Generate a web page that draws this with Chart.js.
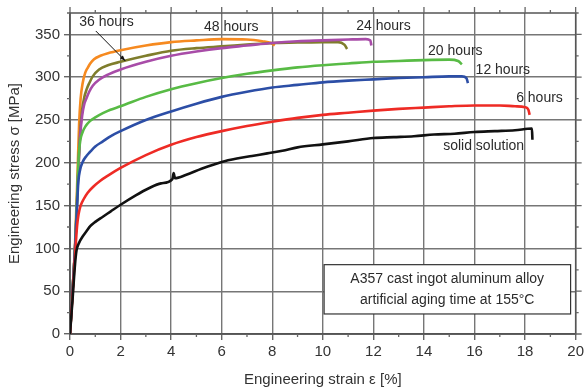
<!DOCTYPE html>
<html>
<head>
<meta charset="utf-8">
<script src="https://cdn.jsdelivr.net/npm/chart.js@4/dist/chart.umd.min.js"></script>
<style>
html,body{margin:0;padding:0;background:#fff;}
canvas{display:block;}
</style>
</head>
<body>
<canvas id="c" width="587" height="392"></canvas>
<script>
// ---- data (strain in %, stress in MPa) ----
const seriesNames = ["solid solution", "6 hours", "12 hours", "20 hours", "24 hours", "36 hours", "48 hours"];

const ssStrain = [0,0.1,0.2,0.26,0.32,0.4,0.5,0.65,0.8,1.0,1.3,1.6,2,2.6,3.1,3.6,4.05,4.1,4.15,4.6,5.2,6,6.6,7.2,7.8,8.4,9,10,11,12,12.8,13.6,14.4,15.2,16,16.8,17.6,18.27,18.29];
const ssStress = [0,40,82,98,104,109,114,120,126,131,137,143,151,162,170,176,181,188,182,186,193,201,205,208,211,214,218,221.5,225,229,230,231,233,234,236,237,238,240,227];

const h6Strain = [0,0.1,0.2,0.28,0.34,0.42,0.55,0.7,0.92,1.2,1.5,2,3,4,5,6,7,8,9,10,11,12,13,14,15,16,17,17.6,18.0,18.13,18.18];
const h6Stress = [0,45,92,126,140,150,158,165,172,179,185,194,209,221,230,237,243,248,252.5,256,258.5,261,263,264.5,266,267,267,266,265,262,256];

const h12Strain = [0,0.1,0.2,0.28,0.33,0.4,0.5,0.65,0.8,1,1.3,1.6,2,3,4,5,6,7,8,9,10,11,12,13,14,15,15.5,15.68,15.74];
const h12Stress = [0,50,100,150,178,192,201,208,213,219,225,231,237,250,260,269,277,283,288,291,294,296,297.5,299,300,301,301,299,293];

const h20Strain = [0,0.1,0.2,0.28,0.34,0.4,0.5,0.62,0.8,1,1.3,1.6,2,3,4,5,6,7,8,9,10,11,12,13,14,15,15.35,15.5];
const h20Stress = [0,50,100,160,205,225,236,243,249,253,258,262,266,277,286,293,299,304,308,311.5,314,316,318,319,320,320.5,319,315];

const h24Strain = [0,0.1,0.2,0.3,0.4,0.48,0.56,0.66,0.76,0.9,1.15,1.5,2,3,4,5,6,7,8,9,10,11,11.7,11.88,11.92];
const h24Stress = [0,50,100,170,230,255,268,276,283,290,297,303,309,318,325,330,334,337,340,342,343,344,344.5,343,337];

const h36Strain = [0,0.1,0.2,0.3,0.4,0.48,0.56,0.66,0.76,0.9,1.15,1.5,2,3,4,5,6,7,8,9,10,10.6,10.85,10.96];
const h36Stress = [0,50,100,170,235,262,276,286,293,301,309,314,318,325,331,334,336,338,340,340.5,341,341,338,333];

const h48Strain = [0,0.1,0.2,0.3,0.36,0.42,0.5,0.6,0.7,0.8,0.95,1.2,1.5,2,3,4,5,6,7,7.6,7.95,8.1];
const h48Stress = [0,50,105,190,245,275,293,305,311,316,321,325,328,331.5,337,341,343,344.5,344,342,340,337];

const xTicks = [0,2,4,6,8,10,12,14,16,18,20];
const yTicks = [0,50,100,150,200,250,300,350];

const boxLines = ["A357 cast ingot aluminum alloy", "artificial aging time at 155\u00B0C"];

// ---- styling / placement (not data) ----
const colors = ["#111111", "#ee2b25", "#2c4ea6", "#58bb45", "#a84ca8", "#7f7d2c", "#f68a20"];
const strains = [ssStrain, h6Strain, h12Strain, h20Strain, h24Strain, h36Strain, h48Strain];
const stresses = [ssStress, h6Stress, h12Stress, h20Stress, h24Stress, h36Stress, h48Stress];
// label anchors in data units (center of text)
const labelPos = [
  [16.36, 219], [18.57, 275], [17.12, 308], [15.24, 331], [12.4, 360], [1.44, 364], [6.38, 358]
];
const arrowFrom = [1.02, 354], arrowTo = [2.19, 319];
const boxRect = [10.05, 81, 19.8, 23.4]; // x1,y1,x2,y2 data
const boxTextX = 14.92, boxTextY = [64, 40];

const datasets = seriesNames.map((n, i) => ({
  label: n,
  data: strains[i].map((x, k) => ({x: x, y: stresses[i][k]})),
  borderColor: colors[i],
  backgroundColor: colors[i],
  borderWidth: 2.6,
  pointRadius: 0,
  showLine: true,
  cubicInterpolationMode: 'monotone',
  fill: false
}));

const FONT = "'Liberation Sans', Arial, sans-serif";

const decor = {
  id: 'decor',
  beforeDatasetsDraw(chart) {
    const ctx = chart.ctx, a = chart.chartArea;
    const xs = chart.scales.x, ys = chart.scales.y;
    ctx.save();
    ctx.strokeStyle = '#555';
    ctx.lineWidth = 1.5;
    ctx.strokeRect(a.left, a.top, a.right - a.left, a.bottom - a.top);
    ctx.beginPath();
    for (let v = 0; v <= 20; v++) {
      const p = xs.getPixelForValue(v);
      const len = (v % 2 === 0) ? 6 : 3;
      if (v % 2 !== 0) { ctx.moveTo(p, a.bottom); ctx.lineTo(p, a.bottom + len); }
      ctx.moveTo(p, a.top); ctx.lineTo(p, a.top - len);
    }
    for (let v = 0; v <= 375; v += 25) {
      const p = ys.getPixelForValue(v);
      const len = (v % 50 === 0) ? 6 : 3;
      if (v % 50 !== 0) { ctx.moveTo(a.left, p); ctx.lineTo(a.left - len, p); }
      ctx.moveTo(a.right, p); ctx.lineTo(a.right + len, p);
    }
    ctx.strokeStyle = '#666';
    ctx.lineWidth = 1.3;
    ctx.stroke();
    ctx.restore();
  },
  afterDatasetsDraw(chart) {
    const ctx = chart.ctx;
    const xs = chart.scales.x, ys = chart.scales.y;
    const X = v => xs.getPixelForValue(v), Y = v => ys.getPixelForValue(v);
    ctx.save();
    ctx.fillStyle = '#2b2b2b';
    ctx.font = '14px ' + FONT;
    ctx.textAlign = 'center';
    ctx.textBaseline = 'middle';
    seriesNames.forEach((n, i) => {
      ctx.fillText(n, X(labelPos[i][0]), Y(labelPos[i][1]));
    });
    const x1 = X(arrowFrom[0]), y1 = Y(arrowFrom[1]), x2 = X(arrowTo[0]), y2 = Y(arrowTo[1]);
    ctx.strokeStyle = '#111';
    ctx.lineWidth = 1;
    ctx.beginPath(); ctx.moveTo(x1, y1); ctx.lineTo(x2, y2); ctx.stroke();
    const ang = Math.atan2(y2 - y1, x2 - x1), hl = 6;
    ctx.fillStyle = '#111';
    ctx.beginPath();
    ctx.moveTo(x2, y2);
    ctx.lineTo(x2 - hl * Math.cos(ang - 0.35), y2 - hl * Math.sin(ang - 0.35));
    ctx.lineTo(x2 - hl * Math.cos(ang + 0.35), y2 - hl * Math.sin(ang + 0.35));
    ctx.closePath(); ctx.fill();
    const bx1 = X(boxRect[0]), by1 = Y(boxRect[1]), bx2 = X(boxRect[2]), by2 = Y(boxRect[3]);
    ctx.fillStyle = '#fff';
    ctx.fillRect(bx1, by1, bx2 - bx1, by2 - by1);
    ctx.strokeStyle = '#333';
    ctx.lineWidth = 1.2;
    ctx.strokeRect(bx1, by1, bx2 - bx1, by2 - by1);
    ctx.fillStyle = '#2b2b2b';
    ctx.font = '14px ' + FONT;
    boxLines.forEach((t, i) => ctx.fillText(t, X(boxTextX), Y(boxTextY[i])));
    ctx.restore();
  }
};

new Chart(document.getElementById('c'), {
  type: 'scatter',
  data: { datasets: datasets },
  options: {
    responsive: false,
    animation: false,
    devicePixelRatio: 1,
    layout: { autoPadding: false, padding: { top: 13, right: 6, left: 0, bottom: 0 } },
    plugins: { legend: { display: false }, tooltip: { enabled: false } },
    scales: {
      x: {
        type: 'linear', min: 0, max: 20,
        afterFit: s => { s.height = 58; },
        afterBuildTicks: s => { s.ticks = xTicks.map(v => ({value: v})); },
        ticks: { color: '#333', font: { size: 15, family: FONT }, padding: 3, maxRotation: 0, autoSkip: false },
        grid: { color: '#767676', lineWidth: 1.4, tickLength: 6, tickColor: '#666', drawTicks: true },
        border: { display: true, color: '#555', width: 1.5 },
        title: { display: true, text: 'Engineering strain \u03B5 [%]', color: '#333', font: { size: 15, family: FONT }, padding: { top: 4, bottom: 3 } }
      },
      y: {
        type: 'linear', min: 0, max: 375,
        afterFit: s => { s.width = 70; },
        afterBuildTicks: s => { s.ticks = yTicks.map(v => ({value: v})); },
        ticks: { color: '#333', font: { size: 15, family: FONT }, padding: 4, autoSkip: false },
        grid: { color: '#767676', lineWidth: 1.4, tickLength: 6, tickColor: '#666', drawTicks: true },
        border: { display: true, color: '#555', width: 1.5 },
        title: { display: true, text: 'Engineering stress \u03C3 [MPa]', color: '#333', font: { size: 15, family: FONT }, padding: { top: 6, bottom: 0 } }
      }
    }
  },
  plugins: [decor]
});
</script>
</body>
</html>
